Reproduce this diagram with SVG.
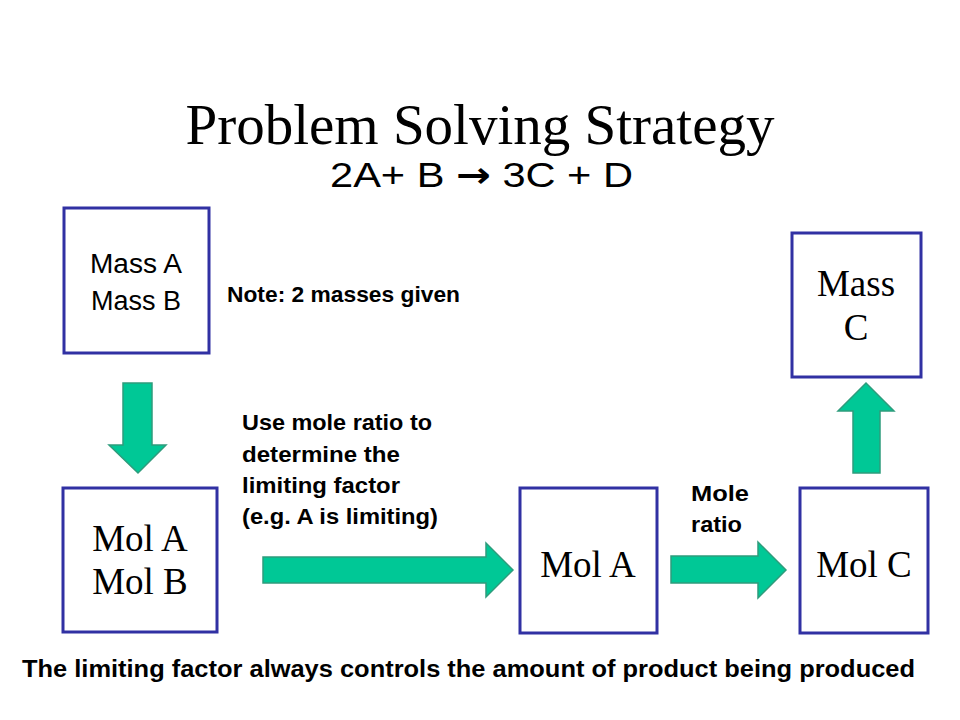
<svg xmlns="http://www.w3.org/2000/svg" width="960" height="720" viewBox="0 0 960 720">
<style>
.box{fill:#fff;stroke:#3131a3;stroke-width:3}
.arr{fill:#00c896;stroke:#2e9c7c;stroke-width:1.5}
.serif{font-family:"Liberation Serif","Times New Roman",serif;fill:#000}
.sans{font-family:"Liberation Sans",Arial,sans-serif;fill:#000}
.b{font-weight:bold}
</style>
<rect width="960" height="720" fill="#fff"/>
<text class="serif" x="480" y="144" font-size="57" text-anchor="middle">Problem Solving Strategy</text>
<text class="sans" x="330" y="187" font-size="35" textLength="303" lengthAdjust="spacingAndGlyphs">2A+ B <tspan font-family="DejaVu Sans" font-weight="bold">→</tspan> 3C + D</text>
<g id="connectors">
<polygon class="arr" points="123,383 152,383 152,445 166,445 138,473 109,445 123,445"/>
<polygon class="arr" points="263,557 486,557 486,543 513,570 486,597 486,583 263,583"/>
<polygon class="arr" points="671,556 758,556 758,542 786,570 758,598 758,583 671,583"/>
<polygon class="arr" points="853,473 880,473 880,411 894,411 866,383 838,411 853,411"/>
</g>
<g id="massAB">
<rect class="box" x="64" y="208" width="145" height="145"/>
<text class="sans" x="136" y="273" font-size="27" text-anchor="middle" textLength="92" lengthAdjust="spacingAndGlyphs">Mass A</text>
<text class="sans" x="136" y="310" font-size="27" text-anchor="middle" textLength="90" lengthAdjust="spacingAndGlyphs">Mass B</text>
</g>
<g id="note">
<text class="sans b" x="227" y="302" font-size="22" textLength="233" lengthAdjust="spacingAndGlyphs">Note: 2 masses given</text>
</g>
<g id="massC">
<rect class="box" x="792" y="233" width="129" height="144"/>
<text class="serif" x="856" y="296" font-size="37" text-anchor="middle">Mass</text>
<text class="serif" x="856" y="340" font-size="37" text-anchor="middle">C</text>
</g>
<g id="ratioNote">
<text class="sans b" font-size="22"><tspan x="242" y="430" textLength="190" lengthAdjust="spacingAndGlyphs">Use mole ratio to</tspan><tspan x="242" y="462" textLength="158" lengthAdjust="spacingAndGlyphs">determine the</tspan><tspan x="242" y="493" textLength="158" lengthAdjust="spacingAndGlyphs">limiting factor</tspan><tspan x="242" y="524" textLength="196" lengthAdjust="spacingAndGlyphs">(e.g. A is limiting)</tspan></text>
</g>
<g id="molAB">
<rect class="box" x="63" y="488" width="154" height="144"/>
<text class="serif" x="140" y="551" font-size="37" text-anchor="middle">Mol A</text>
<text class="serif" x="140" y="594" font-size="37" text-anchor="middle">Mol B</text>
</g>
<g id="molA">
<rect class="box" x="520" y="488" width="137" height="145"/>
<text class="serif" x="588" y="577" font-size="37" text-anchor="middle">Mol A</text>
</g>
<g id="moleRatio">
<text class="sans b" font-size="22"><tspan x="691" y="501" textLength="58" lengthAdjust="spacingAndGlyphs">Mole</tspan><tspan x="691" y="532" textLength="51" lengthAdjust="spacingAndGlyphs">ratio</tspan></text>
</g>
<g id="molC">
<rect class="box" x="800" y="488" width="128" height="145"/>
<text class="serif" x="864" y="577" font-size="37" text-anchor="middle">Mol C</text>
</g>
<g id="footer">
<text class="sans b" x="22" y="677" font-size="23" textLength="893" lengthAdjust="spacingAndGlyphs">The limiting factor always controls the amount of product being produced</text>
</g>
</svg>
